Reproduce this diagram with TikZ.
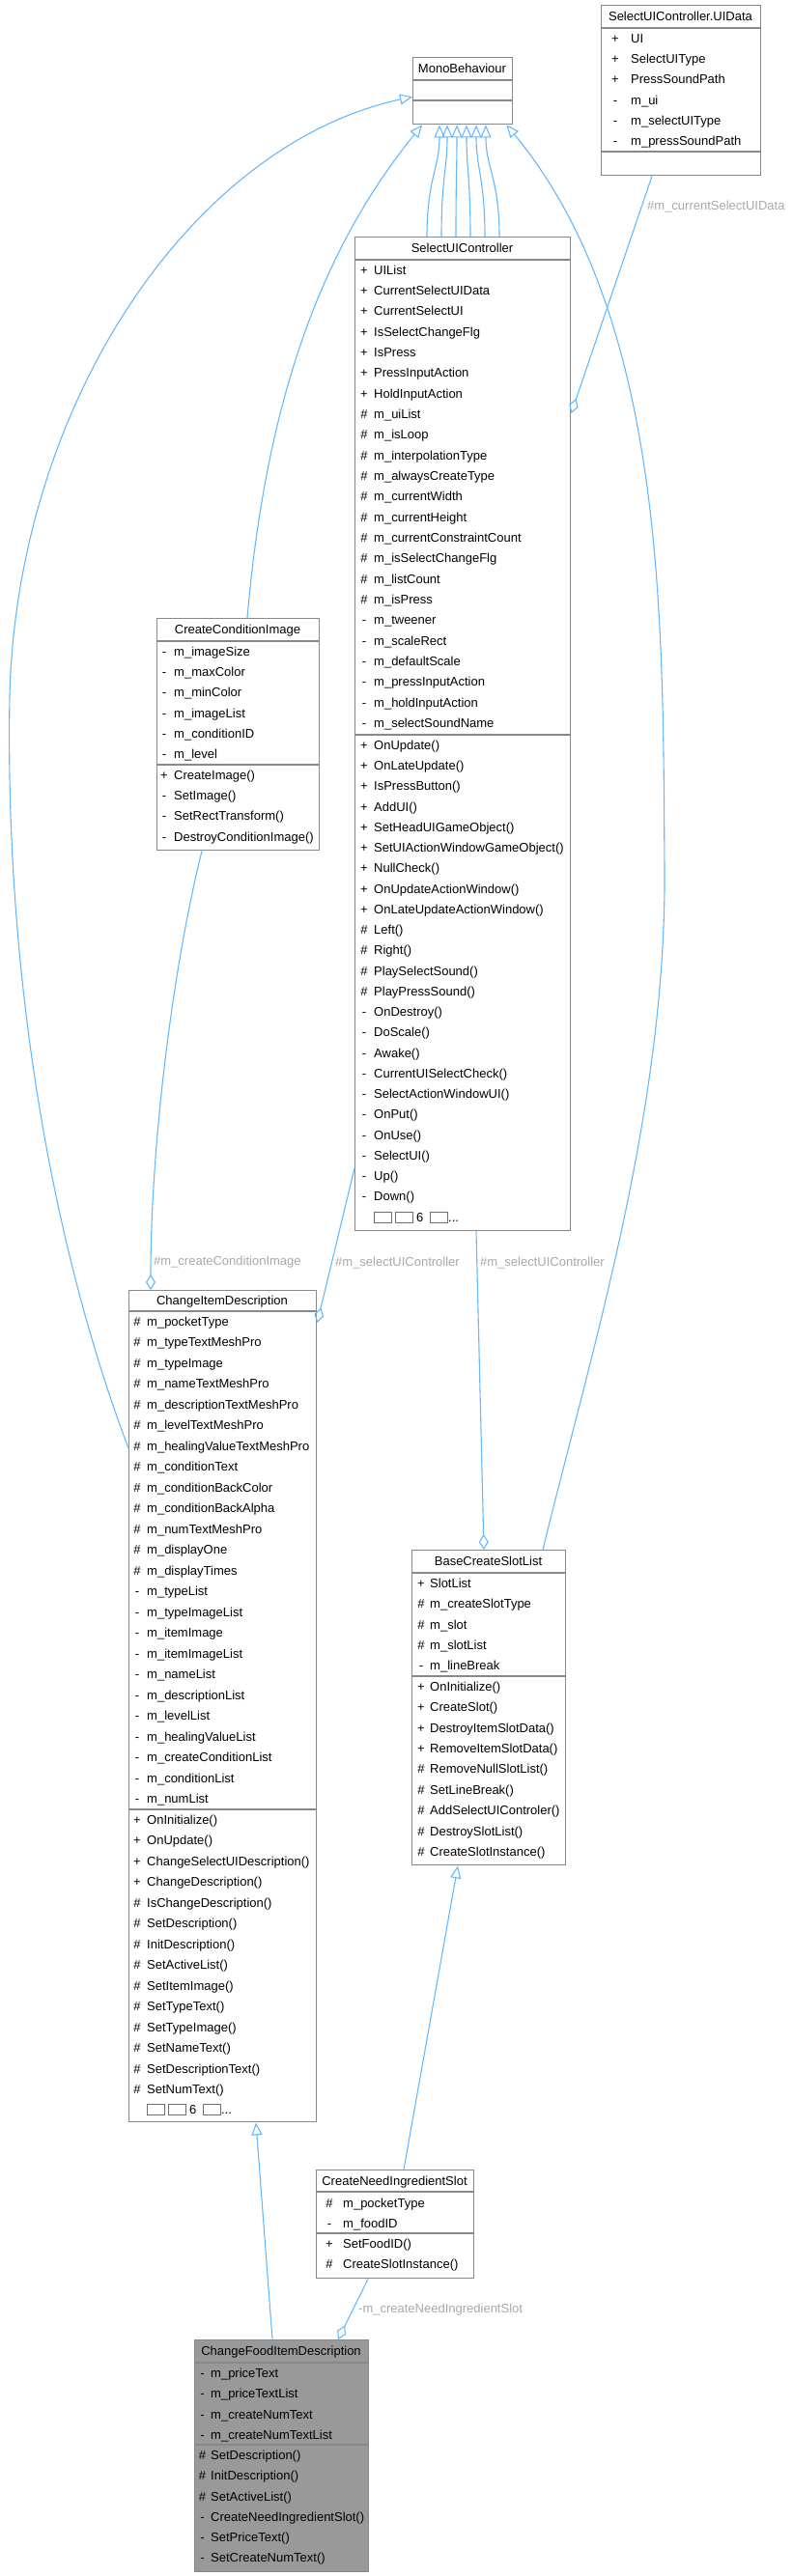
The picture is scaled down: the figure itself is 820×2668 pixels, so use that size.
\documentclass[tikz,border=0pt]{standalone}
\usepackage{fontspec}
\setmainfont{Liberation Sans}
\usepackage{tikz}
\usetikzlibrary{calc,arrows.meta}
\definecolor{EdgeBlue}{RGB}{99,184,255}
\definecolor{BoxGray}{RGB}{136,136,136}
\definecolor{LabelGray}{RGB}{168,168,168}
\definecolor{FillGray}{RGB}{153,153,153}
\definecolor{TofuGray}{RGB}{110,110,110}

\begin{document}
\begin{tikzpicture}[x=1pt, y=-1pt, font=\fontsize{13}{15}\selectfont,
  classbox/.style={draw=BoxGray, line width=1.4pt, fill=white, anchor=north west, inner sep=0pt},
  sepline/.style={draw=BoxGray, line width=1.4pt},
  classtitle/.style={inner sep=0pt, text height=9.3pt, text depth=0pt},
  rowsym/.style={inner sep=0pt, text height=9.3pt, text depth=0pt},
  rowtext/.style={anchor=west, inner sep=0pt, text height=9.3pt, text depth=0pt},
  elabel/.style={text=LabelGray, anchor=west, inner sep=0pt, text height=9.3pt, text depth=0pt},
  tofu/.style={draw=TofuGray, line width=0.8pt},
  inherit/.style={draw=EdgeBlue, line width=1.1pt, -{Triangle[open, length=13pt, width=11pt]}},
  aggr/.style={draw=EdgeBlue, line width=1.1pt, {Diamond[open, length=16pt, width=10pt]}-}]
  \useasboundingbox (0,0) rectangle (820,2668);

  % MonoBehaviour
  \node[classbox, minimum width=103pt, minimum height=69pt] (mono) at (427,59) {};
  \draw[sepline] (427,83) -- ++(103,0) (427,104) -- ++(103,0);
  \node[classtitle] (mono-t) at (478.5,71) {MonoBehaviour};

  % SelectUIController.UIData
  \node[classbox, minimum width=165pt, minimum height=176pt] (uidata) at (622,5) {};
  \draw[sepline] (622,29) -- ++(165,0) (622,157) -- ++(165,0);
  \node[classtitle] (uidata-t) at (704.5,17) {SelectUIController.UIData};
  \foreach \s/\t [count=\i] in {+/UI, +/SelectUIType, +/PressSoundPath,
    -/m\_ui, -/m\_selectUIType, -/m\_pressSoundPath}{
    \pgfmathsetmacro{\ry}{29+(\i-0.5)*21.33}
    \node[rowsym] (uidata-s\i) at (637,\ry) {\s};
    \node[rowtext] (uidata-a\i) at (653,\ry) {\t};
  }

  % SelectUIController
  \node[classbox, minimum width=223pt, minimum height=1029pt] (suic) at (367,245) {};
  \draw[sepline] (367,269) -- ++(223,0) (367,761) -- ++(223,0);
  \node[classtitle] (suic-t) at (478.5,257) {SelectUIController};
  \foreach \s/\t [count=\i] in {+/UIList, +/CurrentSelectUIData, +/CurrentSelectUI,
    +/IsSelectChangeFlg, +/IsPress, +/PressInputAction, +/HoldInputAction,
    \#/m\_uiList, \#/m\_isLoop, \#/m\_interpolationType, \#/m\_alwaysCreateType,
    \#/m\_currentWidth, \#/m\_currentHeight, \#/m\_currentConstraintCount,
    \#/m\_isSelectChangeFlg, \#/m\_listCount, \#/m\_isPress,
    -/m\_tweener, -/m\_scaleRect, -/m\_defaultScale, -/m\_pressInputAction,
    -/m\_holdInputAction, -/m\_selectSoundName}{
    \pgfmathsetmacro{\ry}{269+(\i-0.5)*21.33}
    \node[rowsym] (suic-s\i) at (377,\ry) {\s};
    \node[rowtext] (suic-a\i) at (387,\ry) {\t};
  }
  \foreach \s/\t [count=\i] in {+/OnUpdate(), +/OnLateUpdate(), +/IsPressButton(),
    +/AddUI(), +/SetHeadUIGameObject(), +/SetUIActionWindowGameObject(),
    +/NullCheck(), +/OnUpdateActionWindow(), +/OnLateUpdateActionWindow(),
    \#/Left(), \#/Right(), \#/PlaySelectSound(), \#/PlayPressSound(),
    -/OnDestroy(), -/DoScale(), -/Awake(), -/CurrentUISelectCheck(),
    -/SelectActionWindowUI(), -/OnPut(), -/OnUse(), -/SelectUI(), -/Up(), -/Down()}{
    \pgfmathsetmacro{\ry}{761+(\i-0.5)*21.25}
    \node[rowsym] (suic-ms\i) at (377,\ry) {\s};
    \node[rowtext] (suic-m\i) at (387,\ry) {\t};
  }
  \foreach \bx in {0,22,58} \draw[tofu] (387+\bx,1255.5) rectangle ++(18,11);
  \node[rowtext] (suic-more) at (431,1261) {6};
  \node[rowtext] (suic-dots) at (464,1261) {...};

  % CreateConditionImage
  \node[classbox, minimum width=168pt, minimum height=240pt] (cci) at (162,640) {};
  \draw[sepline] (162,664) -- ++(168,0) (162,792) -- ++(168,0);
  \node[classtitle] (cci-t) at (246,652) {CreateConditionImage};
  \foreach \s/\t [count=\i] in {-/m\_imageSize, -/m\_maxColor, -/m\_minColor,
    -/m\_imageList, -/m\_conditionID, -/m\_level}{
    \pgfmathsetmacro{\ry}{664+(\i-0.5)*21.33}
    \node[rowsym] (cci-s\i) at (170,\ry) {\s};
    \node[rowtext] (cci-a\i) at (180,\ry) {\t};
  }
  \foreach \s/\t [count=\i] in {+/CreateImage(), -/SetImage(), -/SetRectTransform(),
    -/DestroyConditionImage()}{
    \pgfmathsetmacro{\ry}{792+(\i-0.5)*21.33}
    \node[rowsym] (cci-ms\i) at (170,\ry) {\s};
    \node[rowtext] (cci-m\i) at (180,\ry) {\t};
  }

  % ChangeItemDescription
  \node[classbox, minimum width=194pt, minimum height=861pt] (cid) at (133,1336) {};
  \draw[sepline] (133,1358) -- ++(194,0) (133,1874) -- ++(194,0);
  \node[classtitle] (cid-t) at (230,1347) {ChangeItemDescription};
  \foreach \s/\t [count=\i] in {\#/m\_pocketType, \#/m\_typeTextMeshPro,
    \#/m\_typeImage, \#/m\_nameTextMeshPro, \#/m\_descriptionTextMeshPro,
    \#/m\_levelTextMeshPro, \#/m\_healingValueTextMeshPro, \#/m\_conditionText,
    \#/m\_conditionBackColor, \#/m\_conditionBackAlpha, \#/m\_numTextMeshPro,
    \#/m\_displayOne, \#/m\_displayTimes, -/m\_typeList, -/m\_typeImageList,
    -/m\_itemImage, -/m\_itemImageList, -/m\_nameList, -/m\_descriptionList,
    -/m\_levelList, -/m\_healingValueList, -/m\_createConditionList,
    -/m\_conditionList, -/m\_numList}{
    \pgfmathsetmacro{\ry}{1358+(\i-0.5)*21.5}
    \node[rowsym] (cid-s\i) at (142,\ry) {\s};
    \node[rowtext] (cid-a\i) at (152,\ry) {\t};
  }
  \foreach \s/\t [count=\i] in {+/OnInitialize(), +/OnUpdate(),
    +/ChangeSelectUIDescription(), +/ChangeDescription(), \#/IsChangeDescription(),
    \#/SetDescription(), \#/InitDescription(), \#/SetActiveList(), \#/SetItemImage(),
    \#/SetTypeText(), \#/SetTypeImage(), \#/SetNameText(), \#/SetDescriptionText(),
    \#/SetNumText()}{
    \pgfmathsetmacro{\ry}{1874+(\i-0.5)*21.5}
    \node[rowsym] (cid-ms\i) at (142,\ry) {\s};
    \node[rowtext] (cid-m\i) at (152,\ry) {\t};
  }
  \foreach \bx in {0.7,22,58} \draw[tofu] (152+\bx,2179.5) rectangle ++(18,11);
  \node[rowtext] (cid-more) at (196,2185) {6};
  \node[rowtext] (cid-dots) at (229,2185) {...};

  % BaseCreateSlotList
  \node[classbox, minimum width=159pt, minimum height=326pt] (bcsl) at (426,1605) {};
  \draw[sepline] (426,1629) -- ++(159,0) (426,1736) -- ++(159,0);
  \node[classtitle] (bcsl-t) at (505.5,1617) {BaseCreateSlotList};
  \foreach \s/\t [count=\i] in {+/SlotList, \#/m\_createSlotType, \#/m\_slot,
    \#/m\_slotList, -/m\_lineBreak}{
    \pgfmathsetmacro{\ry}{1629+(\i-0.5)*21.4}
    \node[rowsym] (bcsl-s\i) at (436,\ry) {\s};
    \node[rowtext] (bcsl-a\i) at (445,\ry) {\t};
  }
  \foreach \s/\t [count=\i] in {+/OnInitialize(), +/CreateSlot(),
    +/DestroyItemSlotData(), +/RemoveItemSlotData(), \#/RemoveNullSlotList(),
    \#/SetLineBreak(), \#/AddSelectUIControler(), \#/DestroySlotList(),
    \#/CreateSlotInstance()}{
    \pgfmathsetmacro{\ry}{1736+(\i-0.5)*21.4}
    \node[rowsym] (bcsl-ms\i) at (436,\ry) {\s};
    \node[rowtext] (bcsl-m\i) at (445,\ry) {\t};
  }

  % CreateNeedIngredientSlot
  \node[classbox, minimum width=163pt, minimum height=112pt] (cnis) at (327,2247) {};
  \draw[sepline] (327,2270) -- ++(163,0) (327,2313) -- ++(163,0);
  \node[classtitle] (cnis-t) at (408.5,2258.5) {CreateNeedIngredientSlot};
  \foreach \s/\t/\ry [count=\i] in {\#/m\_pocketType/2281.5, -/m\_foodID/2302.5,
    +/SetFoodID()/2324, \#/CreateSlotInstance()/2345}{
    \node[rowsym] (cnis-s\i) at (341,\ry) {\s};
    \node[rowtext] (cnis-a\i) at (355,\ry) {\t};
  }

  % ChangeFoodItemDescription
  \node[classbox, fill=FillGray, minimum width=180pt, minimum height=240pt] (cfid) at (201,2423) {};
  \draw[sepline] (201,2447) -- ++(180,0) (201,2532) -- ++(180,0);
  \node[classtitle] (cfid-t) at (291,2435) {ChangeFoodItemDescription};
  \foreach \s/\t [count=\i] in {-/m\_priceText, -/m\_priceTextList,
    -/m\_createNumText, -/m\_createNumTextList}{
    \pgfmathsetmacro{\ry}{2447+(\i-0.5)*21.33}
    \node[rowsym] (cfid-s\i) at (209.5,\ry) {\s};
    \node[rowtext] (cfid-a\i) at (218,\ry) {\t};
  }
  \foreach \s/\t [count=\i] in {\#/SetDescription(), \#/InitDescription(),
    \#/SetActiveList(), -/CreateNeedIngredientSlot(), -/SetPriceText(),
    -/SetCreateNumText()}{
    \pgfmathsetmacro{\ry}{2532+(\i-0.5)*21.33}
    \node[rowsym] (cfid-ms\i) at (209.5,\ry) {\s};
    \node[rowtext] (cfid-m\i) at (218,\ry) {\t};
  }

  % inheritance -> MonoBehaviour
  \coordinate (leftbend) at (10,720);
  \draw[inherit] ($(cid.north west)+(0,164)$) .. controls +(-83,-220) and +(-5,280) .. (leftbend)
    .. controls +(8,-300) and +(-230,50) .. ($(mono.west)+(0,6)$);
  \draw[inherit] ($(cci.north west)+(94,0)$) .. controls +(19,-220) and +(-107,132) .. ($(mono.south west)+(10,0)$);
  \foreach \a/\b in {75/28, 90/36, 105/46, 120/56, 135/66, 150/76}
    \draw[inherit] ($(suic.north west)+(\a,0)$) .. controls +(0,-60) and +(0,45) .. ($(mono.south west)+(\b,0)$);
  \coordinate (rightbend) at (688,900);
  \draw[inherit] ($(bcsl.north west)+(136,0)$) .. controls +(50,-205) and +(2,250) .. (rightbend)
    .. controls +(-2,-250) and +(167,202) .. ($(mono.south east)+(-7,0)$);

  % other inheritance
  \draw[inherit] ($(cfid.north west)+(81,0)$) -- ($(cid.south west)+(132,0)$);
  \draw[inherit] ($(cnis.north west)+(91,0)$) -- ($(bcsl.south west)+(48,0)$);

  % aggregation
  \draw[aggr] ($(suic.north east)+(0,183)$) -- ($(uidata.south west)+(53,0)$);
  \node[elabel] (lbl-uidata) at (670,213) {\#m\_currentSelectUIData};
  \draw[aggr] ($(cid.north west)+(23,0)$) .. controls +(0,-150) and +(-30,120) .. ($(cci.south west)+(47,0)$);
  \node[elabel] (lbl-cci) at (159,1306) {\#m\_createConditionImage};
  \draw[aggr] ($(cid.north east)+(0,34)$) -- ($(suic.north west)+(0,965)$);
  \node[elabel] (lbl-suic1) at (347,1307) {\#m\_selectUIController};
  \draw[aggr] ($(bcsl.north west)+(75,0)$) -- ($(suic.south west)+(126,0)$);
  \node[elabel] (lbl-suic2) at (497,1307) {\#m\_selectUIController};
  \draw[aggr] ($(cfid.north west)+(149,0)$) -- ($(cnis.south west)+(54,0)$);
  \node[elabel] (lbl-cnis) at (371,2391) {-m\_createNeedIngredientSlot};
\end{tikzpicture}
\end{document}
